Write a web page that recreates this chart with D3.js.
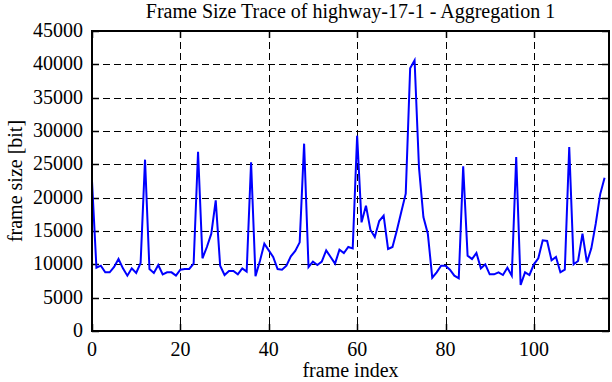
<!DOCTYPE html>
<html>
<head>
<meta charset="utf-8">
<script src="https://d3js.org/d3.v7.min.js"></script>
<style>
  body { margin: 0; background: #fff; }
  text { font-family: "Liberation Serif", "DejaVu Serif", serif; fill: #000; }
</style>
</head>
<body>
<svg id="chart" width="612" height="382"></svg>
<script>
// frame sizes [bit], frame index 0..116
const frameSizes = [
  22500, 9500, 9800, 8800, 8800, 9600, 10800, 9400, 8300, 9400,
  8700, 10200, 25700, 9300, 8700, 9900, 8500, 8800, 8800, 8300,
  9200, 9300, 9300, 10100, 26900, 10900, 12600, 14600, 19600, 9800,
  8400, 9000, 9000, 8500, 9400, 8900, 25300, 8200, 10500, 13100,
  12100, 11100, 9300, 9200, 9800, 11200, 12000, 13300, 28100, 9600,
  10400, 9900, 10400, 12100, 11100, 10100, 12200, 11700, 12600, 12400,
  29300, 16300, 18800, 15200, 14100, 16500, 17300, 12300, 12600, 15100,
  17900, 20600, 39400, 40600, 24500, 17100, 14600, 8000, 8800, 9800,
  9800, 9200, 8300, 7900, 24700, 11300, 10800, 11700, 9400, 10000,
  8500, 8500, 8800, 8400, 9500, 8300, 26100, 6900, 8800, 8400,
  10000, 10900, 13600, 13500, 10600, 11100, 8800, 9200, 27600, 10000,
  10500, 14600, 10300, 12400, 16100, 20500, 23000
];
const xTicks = [0, 20, 40, 60, 80, 100];
const yTicks = [0, 5000, 10000, 15000, 20000, 25000, 30000, 35000, 40000, 45000];

const svg = d3.select("#chart");
const L = 92, R = 609, T = 31, B = 331;

const x = d3.scaleLinear().domain([0, 117]).range([L, R]);
const y = d3.scaleLinear().domain([0, 45000]).range([B, T]);

// grid
const grid = svg.append("g").attr("stroke", "#000").attr("stroke-width", 1).attr("stroke-dasharray", "7,4");
grid.selectAll("line.gx").data(xTicks.slice(1)).join("line")
  .attr("x1", d => Math.round(x(d)) + 0.5).attr("x2", d => Math.round(x(d)) + 0.5)
  .attr("y1", T).attr("y2", B);
grid.selectAll("line.gy").data(yTicks.slice(1, -1)).join("line")
  .attr("y1", d => Math.round(y(d)) + 0.5).attr("y2", d => Math.round(y(d)) + 0.5)
  .attr("x1", L).attr("x2", R);

// inward ticks on all sides
const tk = svg.append("g").attr("stroke", "#000").attr("stroke-width", 1.5);
const tl = 7;
xTicks.forEach(d => {
  const px = Math.round(x(d)) + 0.5;
  tk.append("line").attr("x1", px).attr("x2", px).attr("y1", B).attr("y2", B - tl);
  tk.append("line").attr("x1", px).attr("x2", px).attr("y1", T).attr("y2", T + tl);
});
yTicks.forEach(d => {
  const py = Math.round(y(d)) + 0.5;
  tk.append("line").attr("x1", L).attr("x2", L + tl).attr("y1", py).attr("y2", py);
  tk.append("line").attr("x1", R).attr("x2", R - tl).attr("y1", py).attr("y2", py);
});

// data line
svg.append("path").datum(frameSizes)
  .attr("fill", "none").attr("stroke", "#0000ff").attr("stroke-width", 2)
  .attr("stroke-linejoin", "miter")
  .attr("d", d3.line().x((d, i) => x(i)).y(d => y(d)));

// border
svg.append("rect").attr("x", L).attr("y", T).attr("width", R - L).attr("height", B - T)
  .attr("fill", "none").attr("stroke", "#000").attr("stroke-width", 2);

// tick labels
svg.append("g").selectAll("text").data(xTicks).join("text")
  .attr("x", d => x(d)).attr("y", 356).attr("text-anchor", "middle")
  .attr("font-size", 20).text(d => d);
svg.append("g").selectAll("text").data(yTicks).join("text")
  .attr("x", 83).attr("y", d => y(d) + 6).attr("text-anchor", "end")
  .attr("font-size", 20).text(d => d);

// titles
svg.append("text").attr("x", (L + R) / 2).attr("y", 18).attr("text-anchor", "middle")
  .attr("font-size", 20).text("Frame Size Trace of highway-17-1 - Aggregation 1");
svg.append("text").attr("x", (L + R) / 2).attr("y", 377).attr("text-anchor", "middle")
  .attr("font-size", 20).text("frame index");
svg.append("text").attr("transform", `translate(22,${(T + B) / 2}) rotate(-90)`)
  .attr("text-anchor", "middle").attr("font-size", 20).text("frame size [bit]");
</script>
</body>
</html>
